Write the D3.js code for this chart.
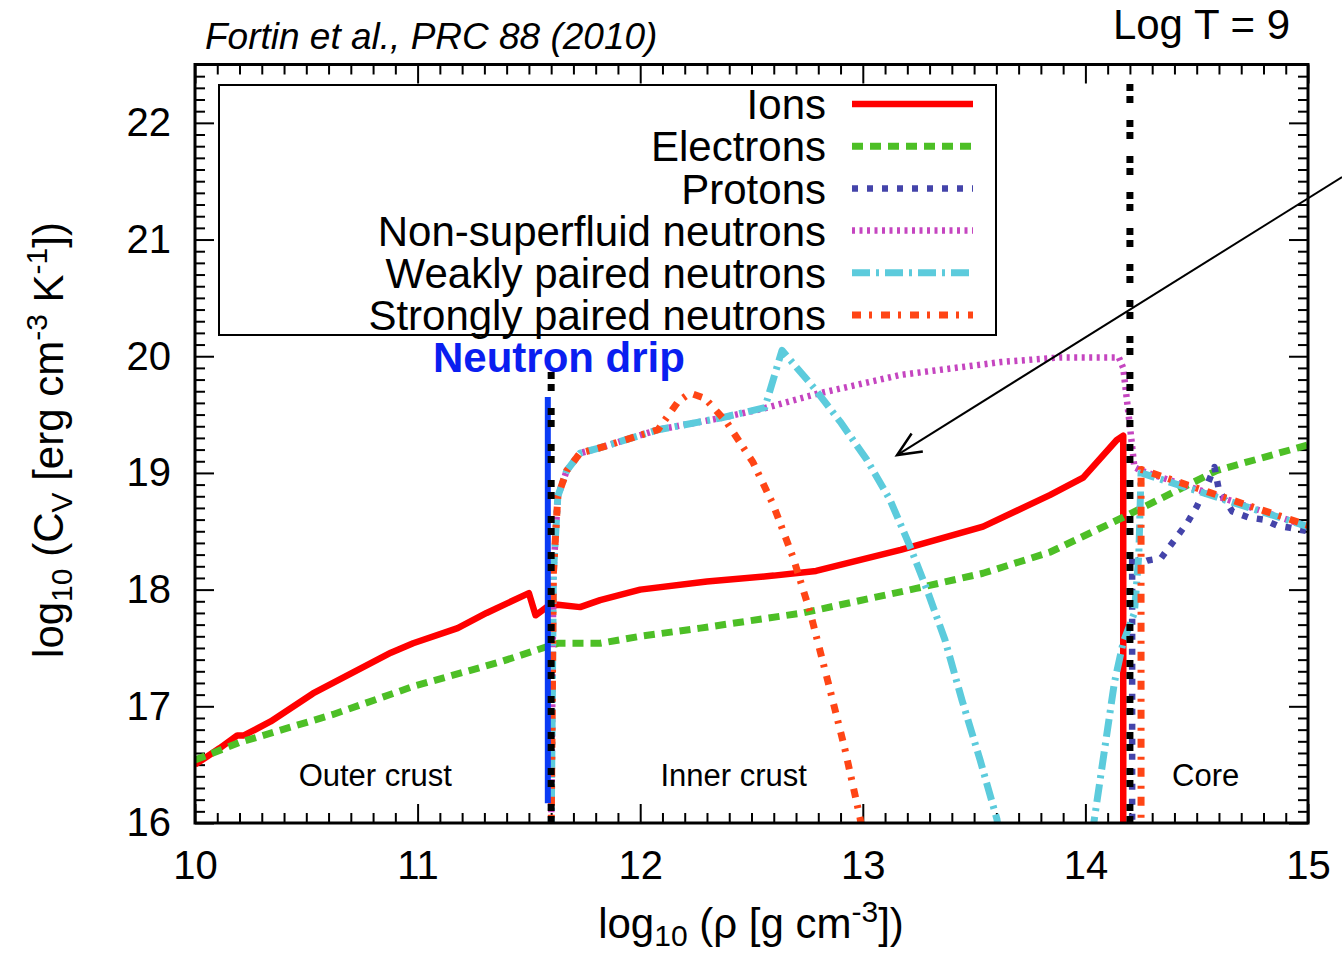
<!DOCTYPE html>
<html>
<head>
<meta charset="utf-8">
<script src="https://cdn.jsdelivr.net/npm/d3@7"></script>
<style>
body { margin: 0; background: #fff; }
text { font-family: "Liberation Sans", Arial, Helvetica, sans-serif; }
</style>
</head>
<body>
<div id="chart"></div>
<script>
// tick values
const xTicks = [10, 11, 12, 13, 14, 15];
const yTicks = [16, 17, 18, 19, 20, 21, 22];

// series: [log rho, log Cv], null = gap
const ions = [[10.0, 16.5], [10.11, 16.64], [10.19, 16.75], [10.22, 16.75], [10.34, 16.87],
  [10.53, 17.11], [10.88, 17.46], [10.98, 17.54], [11.18, 17.67], [11.31, 17.8], [11.5, 17.97],
  [11.53, 17.78], [11.58, 17.85], [11.63, 17.87], [11.73, 17.85], [11.82, 17.91], [12.0, 18.0],
  [12.3, 18.07], [12.6, 18.12], [12.79, 18.16], [13.17, 18.34], [13.54, 18.54], [13.84, 18.81],
  [13.99, 18.96], [14.14, 19.28], [14.17, 19.32], [14.17, 15.9]];
const electrons = [[10.0, 16.54], [10.2, 16.69], [10.62, 16.93], [10.98, 17.17], [11.37, 17.38],
  [11.58, 17.51], [11.63, 17.54], [11.82, 17.54], [12.0, 17.6], [12.27, 17.67], [12.73, 17.8],
  [13.24, 18.01], [13.54, 18.14], [13.84, 18.32], [14.17, 18.62], [14.59, 19.02], [15.0, 19.24]];
const protons = [[14.21, 15.9], [14.21, 18.3], [14.24, 18.22], [14.28, 18.25], [14.34, 18.27],
  [14.41, 18.45], [14.46, 18.58], [14.5, 18.71], [14.55, 18.91], [14.58, 19.05], [14.6, 18.85],
  [14.66, 18.67], [14.73, 18.62], [14.8, 18.6], [14.86, 18.55], [14.92, 18.53], [15.0, 18.5]];
const nonSuperfluid = [[11.6, 15.9], [11.61, 18.14], [11.63, 18.8], [11.67, 19.02], [11.73, 19.17],
  [11.81, 19.21], [12.08, 19.37], [12.36, 19.47], [12.55, 19.55], [12.8, 19.68], [13.17, 19.84],
  [13.62, 19.95], [13.89, 19.99], [14.15, 19.99], [14.17, 19.9], [14.2, 19.4], [14.22, 19.05],
  [14.25, 19.02], [15.0, 18.54]];
const weakPaired = [[11.6, 15.9], [11.61, 18.14], [11.63, 18.8], [11.67, 19.02], [11.73, 19.17],
  [11.81, 19.21], [12.08, 19.37], [12.36, 19.47], [12.56, 19.56], [12.637, 20.05], [12.776, 19.74],
  [12.898, 19.44], [13.019, 19.11], [13.122, 18.77], [13.212, 18.37], [13.288, 18.0], [13.369, 17.57],
  [13.446, 17.05], [13.527, 16.54], [13.603, 16.03], [13.61, 15.9], null,
  [14.03, 15.9], [14.13, 17.2], [14.17, 17.55], [14.22, 17.8], [14.24, 18.3], [14.25, 19.0],
  [15.0, 18.54]];
const strongPaired = [[11.6, 15.9], [11.61, 18.14], [11.63, 18.8], [11.67, 19.02], [11.73, 19.17],
  [11.81, 19.21], [12.08, 19.37], [12.17, 19.61], [12.224, 19.685], [12.291, 19.64], [12.39, 19.43],
  [12.507, 19.09], [12.597, 18.73], [12.686, 18.28], [12.763, 17.81], [12.853, 17.14], [12.92, 16.63],
  [12.987, 16.05], [13.0, 15.9], null,
  [14.25, 15.9], [14.25, 19.03], [15.0, 18.55]];

const seriesNames = ["Ions", "Electrons", "Protons", "Non-superfluid neutrons",
  "Weakly paired neutrons", "Strongly paired neutrons"];
const seriesData = [ions, electrons, protons, nonSuperfluid, weakPaired, strongPaired];

// boundaries and labels
const dripLine = [[11.585, 16.17], [11.585, 19.65]];
const boundaries = [[[11.6, 16], [11.6, 19.9]], [[14.2, 16], [14.2, 22.35]]];
const regionLabels = [["Outer crust", 10.81], ["Inner crust", 12.42], ["Core", 14.54]];
const arrowLine = [[15.153, 21.535], [13.154, 19.153]];

const styles = [
  { color: "#ff0000", width: 6.5, dash: null },
  { color: "#4dbf26", width: 7, dash: "11,7" },
  { color: "#4444aa", width: 6.5, dash: "6,9" },
  { color: "#c545c0", width: 6.5, dash: "3,4.5" },
  { color: "#5ccbdc", width: 7, dash: "18,6,3,6" },
  { color: "#ff4515", width: 7, dash: "9,8,3,9" }
];

const width = 1342, height = 956;
const svg = d3.select("#chart").append("svg")
  .attr("width", width)
  .attr("height", height);

const x = d3.scaleLinear().domain([10, 15]).range([195, 1308]);
const y = d3.scaleLinear().domain([16, 22.5]).range([823, 64.5]);

svg.append("defs").append("clipPath").attr("id", "plotclip")
  .append("rect")
  .attr("x", x(10)).attr("y", y(22.5))
  .attr("width", x(15) - x(10)).attr("height", y(16) - y(22.5));

// ticks
const minorX = d3.range(100, 151).map(d => d / 10).filter(d => d % 1 !== 0);
const minorY = d3.range(160, 226).map(d => d / 10).filter(d => d % 1 !== 0);

function tidy(g) {
  g.select(".domain").remove();
  g.selectAll(".tick line").attr("stroke", "#000").attr("stroke-width", 2);
  g.selectAll("text").attr("fill", "#000").style("font-size", "40px");
}

svg.append("g").attr("transform", `translate(0,${y(16)})`)
  .call(d3.axisBottom(x).tickValues(xTicks).tickSizeInner(-19).tickSizeOuter(0).tickPadding(28).tickFormat(d3.format("d")))
  .call(tidy);
svg.append("g").attr("transform", `translate(0,${y(16)})`)
  .call(d3.axisBottom(x).tickValues(minorX).tickSize(-10).tickFormat(""))
  .call(tidy);
svg.append("g").attr("transform", `translate(0,${y(22.5)})`)
  .call(d3.axisTop(x).tickValues(xTicks).tickSize(-19).tickFormat(""))
  .call(tidy);
svg.append("g").attr("transform", `translate(0,${y(22.5)})`)
  .call(d3.axisTop(x).tickValues(minorX).tickSize(-10).tickFormat(""))
  .call(tidy);
svg.append("g").attr("transform", `translate(${x(10)},0)`)
  .call(d3.axisLeft(y).tickValues(yTicks).tickSizeInner(-19).tickSizeOuter(0).tickPadding(24).tickFormat(d3.format("d")))
  .call(tidy);
svg.append("g").attr("transform", `translate(${x(10)},0)`)
  .call(d3.axisLeft(y).tickValues(minorY).tickSize(-10).tickFormat(""))
  .call(tidy);
svg.append("g").attr("transform", `translate(${x(15)},0)`)
  .call(d3.axisRight(y).tickValues(yTicks).tickSize(-19).tickFormat(""))
  .call(tidy);
svg.append("g").attr("transform", `translate(${x(15)},0)`)
  .call(d3.axisRight(y).tickValues(minorY).tickSize(-10).tickFormat(""))
  .call(tidy);

// legend box
svg.append("rect")
  .attr("x", 219).attr("y", 85).attr("width", 777).attr("height", 250)
  .attr("fill", "none").attr("stroke", "#000").attr("stroke-width", 2);

const line = d3.line()
  .defined(d => d !== null)
  .x(d => x(d[0]))
  .y(d => y(d[1]));

const plot = svg.append("g").attr("clip-path", "url(#plotclip)");

seriesData.forEach((data, i) => {
  plot.append("path")
    .datum(data)
    .attr("fill", "none")
    .attr("stroke", styles[i].color)
    .attr("stroke-width", styles[i].width)
    .attr("stroke-dasharray", styles[i].dash)
    .attr("stroke-linejoin", "round")
    .attr("d", line);
});

// neutron drip marker
plot.append("path")
  .datum(dripLine)
  .attr("fill", "none")
  .attr("stroke", "#0b3cf5")
  .attr("stroke-width", 6)
  .attr("d", line);

boundaries.forEach(b => {
  plot.append("path")
    .datum(b)
    .attr("fill", "none")
    .attr("stroke", "#000")
    .attr("stroke-width", 7)
    .attr("stroke-dasharray", "7,5,7,17")
    .attr("d", line);
});

// frame
svg.append("rect")
  .attr("x", x(10)).attr("y", y(22.5))
  .attr("width", x(15) - x(10)).attr("height", y(16) - y(22.5))
  .attr("fill", "none").attr("stroke", "#000").attr("stroke-width", 3);

// legend entries
seriesNames.forEach((name, i) => {
  const cy = 104 + i * 42.2;
  svg.append("text")
    .attr("x", 826).attr("y", cy).attr("dy", "0.36em")
    .attr("text-anchor", "end")
    .style("font-size", "42px")
    .text(name);
  svg.append("line")
    .attr("x1", 852).attr("x2", 973).attr("y1", cy).attr("y2", cy)
    .attr("stroke", styles[i].color)
    .attr("stroke-width", styles[i].width)
    .attr("stroke-dasharray", styles[i].dash);
});

// region labels
regionLabels.forEach(([label, xv]) => {
  svg.append("text")
    .attr("x", x(xv)).attr("y", y(16.41)).attr("dy", "0.36em")
    .attr("text-anchor", "middle")
    .style("font-size", "31px")
    .text(label);
});

svg.append("text")
  .attr("x", x(11.635)).attr("y", y(19.865))
  .attr("text-anchor", "middle")
  .attr("fill", "#0a1ef0")
  .style("font-size", "42px").style("font-weight", "bold")
  .text("Neutron drip");

// arrow annotation
const a0 = [x(arrowLine[0][0]), y(arrowLine[0][1])];
const a1 = [x(arrowLine[1][0]), y(arrowLine[1][1])];
const ang = Math.atan2(a1[1] - a0[1], a1[0] - a0[0]);
const head = 26, spread = 0.42;
svg.append("line")
  .attr("x1", a0[0]).attr("y1", a0[1]).attr("x2", a1[0]).attr("y2", a1[1])
  .attr("stroke", "#000").attr("stroke-width", 2);
svg.append("path")
  .attr("d", `M${a1[0] - head * Math.cos(ang - spread)},${a1[1] - head * Math.sin(ang - spread)}
    L${a1[0]},${a1[1]}
    L${a1[0] - head * Math.cos(ang + spread)},${a1[1] - head * Math.sin(ang + spread)}`)
  .attr("fill", "none").attr("stroke", "#000").attr("stroke-width", 2.5);

// titles
svg.append("text")
  .attr("x", 205).attr("y", 49)
  .style("font-size", "37px").style("font-style", "italic")
  .text("Fortin et al., PRC 88 (2010)");
svg.append("text")
  .attr("x", 1290).attr("y", 39)
  .attr("text-anchor", "end")
  .style("font-size", "42px")
  .text("Log T = 9");

// axis titles
const xt = svg.append("text")
  .attr("x", 751).attr("y", 938)
  .attr("text-anchor", "middle")
  .style("font-size", "42px");
xt.append("tspan").text("log");
xt.append("tspan").attr("dy", 8).style("font-size", "30px").text("10");
xt.append("tspan").attr("dy", -8).text(" (\u03c1 [g cm");
xt.append("tspan").attr("dy", -16).style("font-size", "30px").text("-3");
xt.append("tspan").attr("dy", 16).text("])");

const yt = svg.append("text")
  .attr("transform", "translate(63,440) rotate(-90)")
  .attr("text-anchor", "middle")
  .style("font-size", "42px");
yt.append("tspan").text("log");
yt.append("tspan").attr("dy", 9).style("font-size", "30px").text("10");
yt.append("tspan").attr("dy", -9).text(" (C");
yt.append("tspan").attr("dy", 9).style("font-size", "30px").text("V");
yt.append("tspan").attr("dy", -9).text(" [erg cm");
yt.append("tspan").attr("dy", -16).style("font-size", "30px").text("-3");
yt.append("tspan").attr("dy", 16).text(" K");
yt.append("tspan").attr("dy", -16).style("font-size", "30px").text("-1");
yt.append("tspan").attr("dy", 16).text("])");
</script>
</body>
</html>
